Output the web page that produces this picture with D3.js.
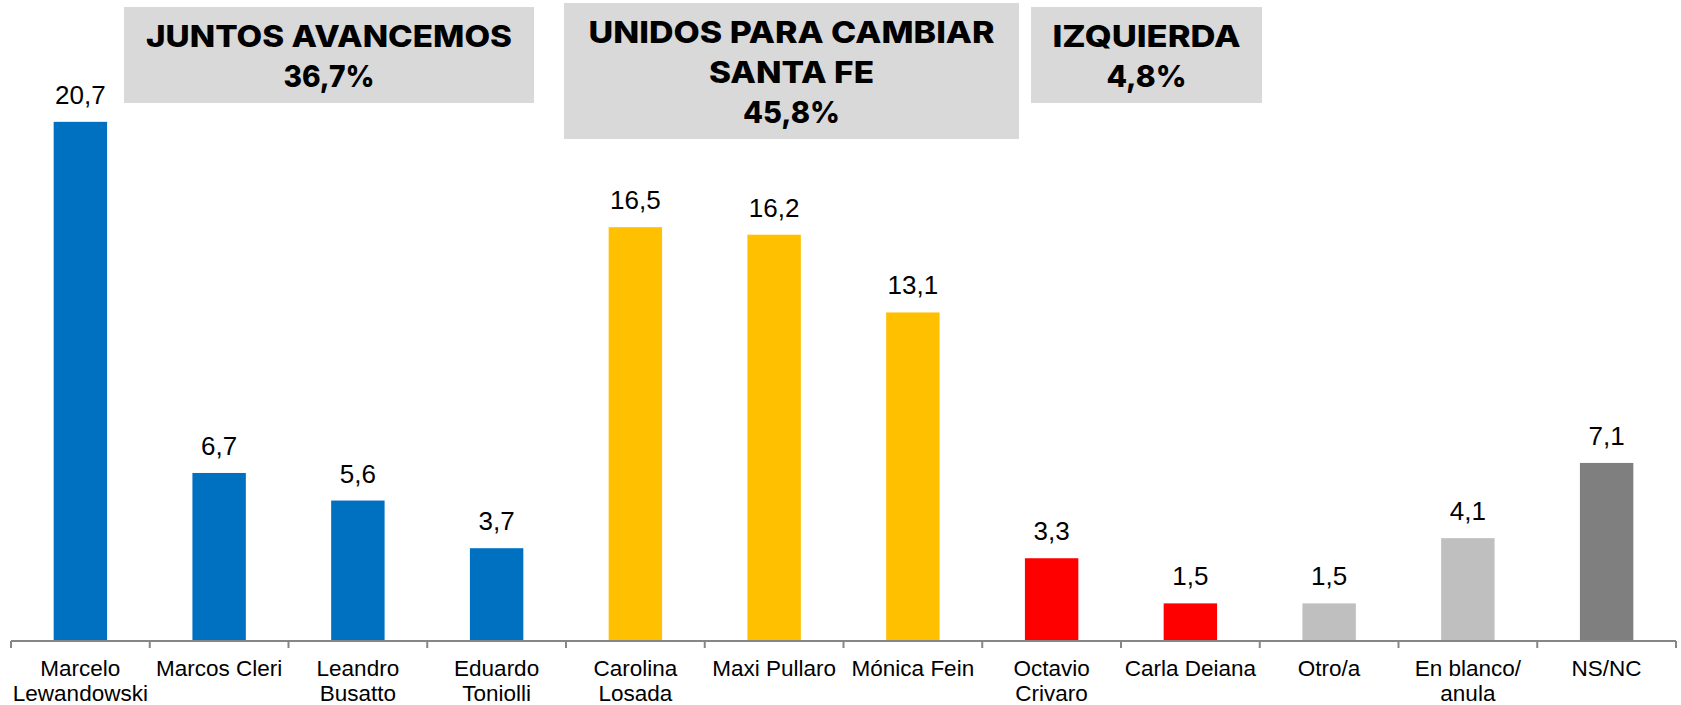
<!DOCTYPE html>
<html>
<head>
<meta charset="utf-8">
<script src="https://cdn.jsdelivr.net/npm/d3@7"></script>
<style>
  html, body { margin: 0; padding: 0; background: #fff; }
  svg { display: block; }
</style>
</head>
<body>
<svg id="chart" width="1681" height="705"></svg>
<script>
// ---- data ----
const categories = [
  "Marcelo Lewandowski", "Marcos Cleri", "Leandro Busatto", "Eduardo Toniolli",
  "Carolina Losada", "Maxi Pullaro", "Mónica Fein",
  "Octavio Crivaro", "Carla Deiana",
  "Otro/a", "En blanco/ anula", "NS/NC"
];
const categoryLines = [
  ["Marcelo", "Lewandowski"], ["Marcos Cleri"], ["Leandro", "Busatto"], ["Eduardo", "Toniolli"],
  ["Carolina", "Losada"], ["Maxi Pullaro"], ["Mónica Fein"],
  ["Octavio", "Crivaro"], ["Carla Deiana"],
  ["Otro/a"], ["En blanco/", "anula"], ["NS/NC"]
];
const values = [20.7, 6.7, 5.6, 3.7, 16.5, 16.2, 13.1, 3.3, 1.5, 1.5, 4.1, 7.1];
const valueLabels = ["20,7", "6,7", "5,6", "3,7", "16,5", "16,2", "13,1", "3,3", "1,5", "1,5", "4,1", "7,1"];
const groupOf = ["juntos", "juntos", "juntos", "juntos", "unidos", "unidos", "unidos", "izq", "izq", "otro", "otro", "nsnc"];
const groupColors = { juntos: "#0070C0", unidos: "#FFC000", izq: "#FF0000", otro: "#BFBFBF", nsnc: "#7F7F7F" };
const groupTitles = [
  ["JUNTOS AVANCEMOS", "36,7%"],
  ["UNIDOS PARA CAMBIAR", "SANTA FE", "45,8%"],
  ["IZQUIERDA", "4,8%"]
];

// ---- layout ----
const boxLayout = [
  { x: 124, y: 7, w: 410, h: 96, lens: [366, 91] },
  { x: 564, y: 3, w: 455, h: 136, lens: [406, 165, 97] },
  { x: 1031, y: 7, w: 231, h: 96, lens: [188, 80] }
];
const axisY = 641;
const left = 11, right = 1676;

const svg = d3.select("#chart");

const xOuter = d3.scaleBand().domain(categories).range([left, right]).padding(0);
const x = d3.scaleBand().domain(categories).range([left, right])
  .paddingInner(0.615).paddingOuter(0.3075);
const y = d3.scaleLinear().domain([0, 25]).range([axisY, axisY - 25.08 * 25]);

// title boxes
boxLayout.forEach((b, i) => {
  const g = svg.append("g");
  g.append("rect").attr("x", b.x).attr("y", b.y).attr("width", b.w).attr("height", b.h)
    .attr("fill", "#D9D9D9");
  const lines = groupTitles[i];
  const base0 = b.y + 40;
  lines.forEach((t, j) => {
    g.append("text")
      .attr("x", b.x + b.w / 2)
      .attr("y", base0 + j * 40)
      .attr("text-anchor", "middle")
      .attr("font-family", "Inter, 'DejaVu Sans', sans-serif")
      .attr("font-weight", 800)
      .attr("font-size", 30)
      .attr("fill", "#000")
      .attr("textLength", b.lens[j])
      .attr("lengthAdjust", "spacingAndGlyphs")
      .text(t);
  });
});

// bars
svg.append("g").selectAll("rect")
  .data(categories)
  .join("rect")
  .attr("x", d => x(d))
  .attr("width", x.bandwidth())
  .attr("y", (d, i) => y(values[i]))
  .attr("height", (d, i) => y(0) - y(values[i]))
  .attr("fill", (d, i) => groupColors[groupOf[i]]);

// value labels
svg.append("g").selectAll("text")
  .data(categories)
  .join("text")
  .attr("x", d => x(d) + x.bandwidth() / 2)
  .attr("y", (d, i) => y(values[i]) - 18)
  .attr("text-anchor", "middle")
  .attr("font-family", "'Liberation Sans', Arial, sans-serif")
  .attr("font-size", 26)
  .attr("fill", "#000")
  .text((d, i) => valueLabels[i]);

// axis line and ticks
const axisG = svg.append("g").attr("stroke", "#868686").attr("stroke-width", 2);
axisG.append("line").attr("x1", left).attr("x2", right).attr("y1", axisY).attr("y2", axisY);
const tickXs = categories.map(c => xOuter(c)).concat([right]);
axisG.selectAll("line.tick").data(tickXs).join("line")
  .attr("class", "tick")
  .attr("x1", d => d).attr("x2", d => d)
  .attr("y1", axisY).attr("y2", axisY + 7);

// category labels
const labG = svg.append("g");
categories.forEach((c, i) => {
  const t = labG.append("text")
    .attr("x", xOuter(c) + xOuter.bandwidth() / 2)
    .attr("y", 676)
    .attr("text-anchor", "middle")
    .attr("font-family", "'Liberation Sans', Arial, sans-serif")
    .attr("font-size", 22.5)
    .attr("fill", "#000");
  categoryLines[i].forEach((ln, j) => {
    t.append("tspan").attr("x", xOuter(c) + xOuter.bandwidth() / 2)
      .attr("dy", j === 0 ? 0 : 24.5).text(ln);
  });
});
</script>
</body>
</html>
